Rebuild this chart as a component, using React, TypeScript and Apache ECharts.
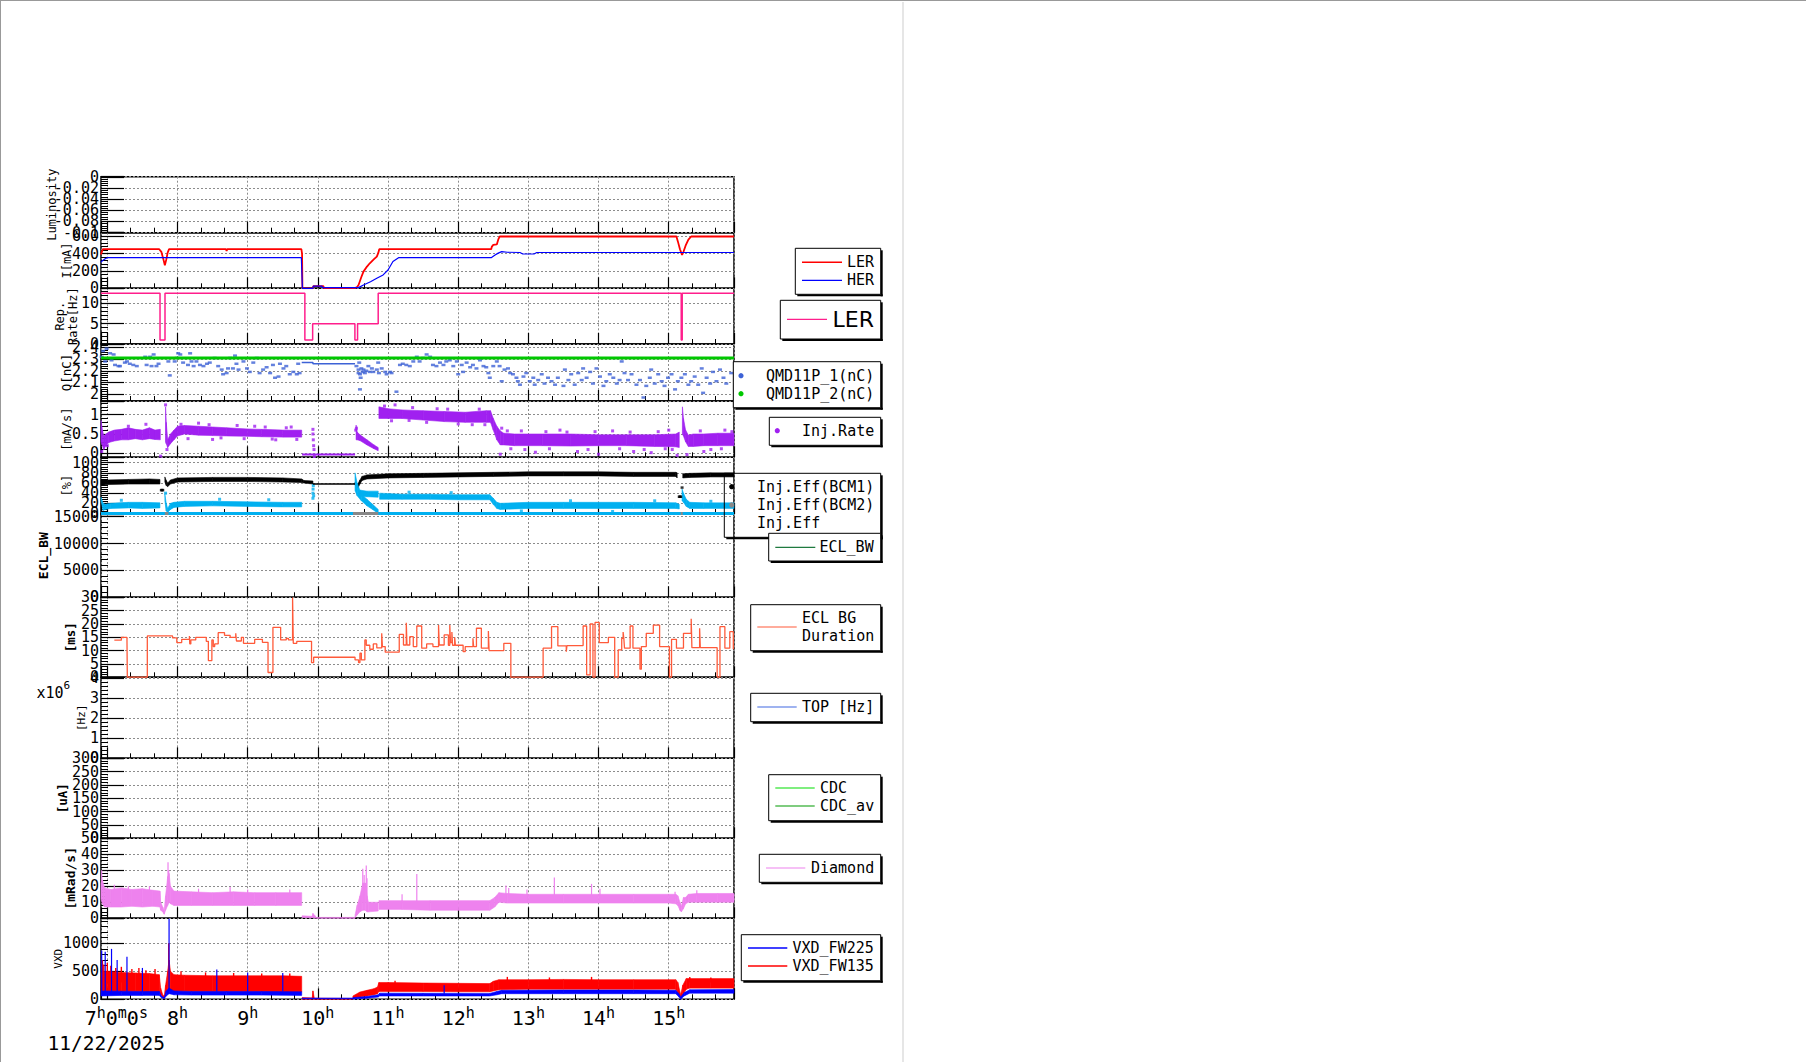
import React, { useEffect, useRef } from 'react';
import * as echarts from 'echarts';

const MONO = '"DejaVu Sans Mono", monospace';
const SANS = '"DejaVu Sans", sans-serif';

// ---------------- data (time in hours of day) ----------------
const TIME_MIN = 6.91;
const TIME_MAX = 15.93;

const lerCurrent = [[6.91,390],[6.935,450],[7.74,450],[7.77,420],[7.80,330],[7.82,265],[7.84,330],[7.86,410],[7.88,450],[8.69,450],[8.70,432],[8.71,450],[9.765,450],[9.775,400],[9.78,0],[9.93,0],[9.935,25],[10.08,25],[10.085,2],[10.53,2],[10.56,15],[10.58,38],[10.62,130],[10.65,192],[10.70,250],[10.74,288],[10.80,335],[10.84,365],[10.86,404],[10.875,450],[12.47,450],[12.48,480],[12.50,500],[12.55,505],[12.57,560],[12.59,596],[15.11,596],[15.13,540],[15.16,450],[15.19,385],[15.21,420],[15.24,490],[15.28,560],[15.32,596],[15.93,596]];
const herCurrent = [[6.91,300],[6.93,318],[6.97,340],[7.0,352],[9.765,352],[9.78,0],[9.93,0],[9.935,25],[10.06,25],[10.065,8],[10.58,8],[10.65,38],[10.75,75],[10.84,115],[10.93,154],[11.0,211],[11.07,308],[11.15,352],[12.47,352],[12.52,380],[12.57,405],[12.62,422],[12.70,415],[12.88,412],[12.92,395],[13.08,395],[13.12,412],[15.93,412]];

const lerRepRate = [[6.91,12.5],[7.751,12.5],[7.751,1],[7.822,1],[7.822,12.5],[9.815,12.5],[9.815,1],[9.926,1],[9.926,5],[10.528,5],[10.528,1],[10.566,1],[10.566,5],[10.86,5],[10.86,12.5],[15.178,12.5],[15.178,1],[15.192,1],[15.192,12.5],[15.93,12.5]];

const qmd1Points = [
[6.92,2.32],[6.94,2.37],[6.97,2.28],[6.99,2.39],[7.04,2.35],[7.06,2.29],[7.09,2.34],[7.11,2.25],[7.16,2.24],[7.18,2.24],[7.25,2.27],[7.28,2.28],[7.32,2.26],[7.37,2.25],[7.42,2.24],[7.54,2.32],[7.56,2.25],[7.61,2.32],[7.63,2.24],[7.66,2.34],[7.70,2.24],[7.73,2.26],[7.87,2.28],[7.89,2.16],
[7.96,2.28],[7.99,2.31],[8.01,2.35],[8.04,2.34],[8.08,2.27],[8.15,2.25],[8.18,2.35],[8.20,2.28],[8.23,2.24],[8.27,2.28],[8.32,2.25],[8.37,2.24],[8.42,2.26],[8.46,2.27],[8.53,2.31],[8.58,2.24],[8.63,2.21],[8.65,2.17],[8.70,2.18],[8.72,2.22],[8.75,2.31],[8.79,2.22],[8.82,2.33],[8.84,2.26],[8.87,2.21],[8.94,2.28],[8.99,2.22],[9.03,2.19],[9.08,2.27],[9.13,2.31],[9.17,2.18],[9.22,2.21],[9.27,2.23],[9.32,2.18],[9.36,2.25],[9.39,2.14],[9.44,2.15],[9.46,2.26],[9.51,2.22],[9.55,2.24],[9.60,2.17],[9.65,2.19],[9.70,2.17],[9.72,2.26],[9.74,2.18],
[10.55,2.24],[10.58,2.21],[10.58,2.18],[10.59,2.27],[10.60,2.17],[10.61,2.14],[10.62,2.22],[10.64,2.19],[10.65,2.21],[10.60,2.04],[10.67,2.18],[10.69,2.20],[10.72,2.24],[10.74,2.19],[10.77,2.22],[10.79,2.19],[10.84,2.21],[10.86,2.27],[10.87,2.18],[10.91,2.22],[10.96,2.19],[10.98,2.17],[11.03,2.19],[11.05,2.18],[11.12,2.02],[11.17,2.25],[11.21,2.26],[11.26,2.25],[11.31,2.24],[11.36,2.28],[11.41,2.32],[11.45,2.28],[11.50,2.31],[11.55,2.34],[11.60,2.32],[11.64,2.25],[11.69,2.24],[11.74,2.27],[11.79,2.25],[11.83,2.28],
[11.88,2.29],[11.93,2.24],[11.98,2.28],[12.0,2.17],[12.05,2.25],[12.07,2.19],[12.12,2.27],[12.17,2.23],[12.21,2.25],[12.26,2.22],[12.31,2.29],[12.36,2.24],[12.40,2.23],[12.43,2.18],[12.45,2.14],[12.50,2.24],[12.55,2.28],[12.59,2.24],[12.62,2.11],[12.66,2.21],[12.71,2.22],[12.74,2.18],[12.78,2.17],[12.83,2.14],[12.85,2.11],[12.88,2.08],[12.93,2.15],[12.97,2.18],[13.02,2.11],[13.07,2.14],[13.09,2.08],[13.14,2.12],[13.19,2.17],[13.23,2.09],[13.28,2.14],[13.33,2.11],[13.38,2.08],[13.42,2.14],[13.50,2.07],[13.52,2.21],[13.57,2.12],[13.61,2.17],[13.66,2.08],[13.71,2.18],[13.76,2.12],[13.78,2.22],[13.83,2.14],[13.88,2.19],[13.92,2.09],[13.97,2.22],[14.02,2.15],[14.07,2.07],[14.11,2.11],[14.16,2.17],[14.21,2.14],[14.26,2.09],[14.30,2.12],[14.33,2.28],[14.37,2.18],[14.42,2.12],[14.47,2.17],[14.54,2.08],[14.59,2.12],[14.64,1.97],[14.68,2.07],[14.73,2.14],[14.75,2.21],[14.80,2.09],[14.85,2.17],[14.90,2.11],[14.94,2.07],[14.99,2.14],[15.04,2.17],[15.09,2.04],[15.13,2.11],[15.18,2.14],[15.23,2.17],[15.28,2.08],[15.32,2.11],[15.37,2.15],[15.42,2.08],[15.47,2.22],[15.49,2.01],[15.54,2.14],[15.59,2.09],[15.63,2.19],[15.68,2.11],[15.73,2.21],[15.78,2.14],[15.82,2.09],[15.89,2.18]
];
const qmd1Flat = [[9.77,2.27],[9.93,2.27],[9.93,2.26],[10.53,2.26]];
const qmd2Line = [[6.91,2.31],[15.93,2.31]];

// bands: [time, low, high]
const injRateBand = [
  [[6.91,0.3,0.85],[6.93,0.2,0.6],[6.95,0.1,0.45],[6.98,0.2,0.5],[7.02,0.28,0.55],[7.1,0.32,0.6],[7.2,0.35,0.62],[7.3,0.35,0.66],[7.4,0.38,0.62],[7.5,0.35,0.6],[7.6,0.38,0.66],[7.68,0.36,0.6],[7.755,0.35,0.62]],
  [[7.83,0.3,1.2],[7.84,0.25,0.8],[7.86,0.15,0.35],[7.9,0.25,0.5],[7.95,0.35,0.6],[8.0,0.45,0.7],[8.1,0.5,0.72],[8.3,0.47,0.7],[8.5,0.46,0.68],[8.7,0.45,0.66],[9.0,0.44,0.63],[9.2,0.43,0.62],[9.5,0.42,0.6],[9.77,0.42,0.6]],
  [[10.545,0.35,0.73],[10.56,0.35,0.55],[10.6,0.33,0.48],[10.7,0.22,0.35],[10.8,0.12,0.22],[10.86,0.07,0.15]],
  [[10.87,0.9,1.2],[11.0,0.9,1.15],[11.2,0.9,1.12],[11.5,0.86,1.1],[11.8,0.82,1.08],[12.1,0.8,1.06],[12.4,0.8,1.1],[12.46,0.8,1.1],[12.5,0.6,0.9],[12.55,0.35,0.7],[12.6,0.22,0.58],[12.65,0.22,0.52],[12.8,0.2,0.5],[13.2,0.2,0.5],[13.6,0.19,0.5],[14.0,0.2,0.48],[14.4,0.2,0.48],[14.8,0.18,0.48],[15.1,0.17,0.5],[15.15,0.15,0.55]],
  [[15.195,0.5,1.2],[15.21,0.45,0.9],[15.24,0.3,0.6],[15.28,0.18,0.47],[15.35,0.18,0.5],[15.5,0.2,0.5],[15.7,0.2,0.52],[15.93,0.2,0.52]],
];
const injRateOutliers = [[6.92,0.05],[7.0,0.2],[7.3,0.7],[7.55,0.75],[7.76,-0.07],[7.83,1.25],[7.85,0.1],[8.05,0.75],[8.15,0.38],[8.3,0.78],[8.45,0.74],[8.5,0.36],[8.62,0.4],[8.85,0.72],[8.95,0.38],[9.1,0.7],[9.25,0.68],[9.35,0.37],[9.4,0.35],[9.55,0.66],[9.62,0.68],[9.7,0.36],[9.93,0.62],[9.93,0.5],[9.935,0.35],[9.94,0.2],[9.945,0.1],[9.95,-0.08],[10.54,0.6],[10.55,0.65],[10.95,1.22],[11.05,0.84],[11.1,1.25],[11.3,0.85],[11.35,1.18],[11.55,0.8],[11.7,1.15],[11.85,1.14],[12.0,0.76],[12.2,0.74],[12.3,1.14],[12.38,0.74],[12.6,-0.02],[12.62,0.65],[12.7,0.58],[12.75,0.12],[12.9,0.58],[12.95,0.1],[13.1,0.03],[13.25,0.56],[13.3,0.12],[13.45,0.6],[13.55,0.55],[13.7,0.05],[13.85,0.1],[13.95,0.56],[14.0,-0.02],[14.2,0.58],[14.3,0.12],[14.45,0.55],[14.5,0.05],[14.65,0.1],[14.75,0.02],[14.85,0.56],[14.95,0.12],[15.0,0.6],[15.05,0.1],[15.12,-0.05],[15.26,-0.03],[15.45,0.58],[15.5,0.05],[15.6,0.1],[15.75,0.12],[15.8,0.6],[15.9,0.56]];
const injRateFlat = [[9.775,-0.03],[10.53,-0.03]];

const effBcm1Band = [
  [[6.91,55,66],[7.0,57,66],[7.3,58,67],[7.6,58,68],[7.75,58,67]],
  [[7.82,62,72],[7.84,55,65],[7.86,53,60],[7.9,58,66],[8.0,62,70],[8.5,63,71],[9.0,63,71],[9.5,62,70],[9.77,61,68],[9.8,60,65],[9.93,58,64]],
  [[10.53,56,62],[10.57,50,58],[10.6,58,66],[10.63,65,73],[10.7,68,76],[11.0,70,78],[11.5,71,79],[12.0,72,80],[12.5,73,81],[13.0,74,82],[13.5,74,82],[14.0,74,82],[14.5,73,81],[15.1,73,81],[15.12,70,80]],
  [[15.2,70,78],[15.3,71,79],[15.6,72,80],[15.93,72,80]],
];
const effBcm1Flat = [[9.93,58],[10.53,58]];
const effBcm1Points = [[7.77,46],[7.78,46],[7.79,46],[15.15,33],[15.16,33],[15.17,33],[15.19,51]];
const effBcm2Segments = [[[7.82,0],[7.87,0]],[[10.5,0],[10.86,0]],[[15.17,0],[15.2,0]]];
const injEffBand = [
  [[6.91,25,32],[6.94,6,20],[6.97,8,18],[7.05,10,20],[7.3,11,22],[7.5,10,22],[7.75,11,21]],
  [[7.82,25,38],[7.84,5,20],[7.86,2,10],[7.9,8,20],[7.95,12,22],[8.1,14,24],[8.5,15,24],[9.0,14,23],[9.5,13,22],[9.77,13,22]],
  [[10.53,45,80],[10.56,35,60],[10.62,25,38],[10.7,15,28],[10.78,8,18],[10.86,0,8]],
  [[10.6,34,46],[10.7,33,44],[10.86,32,44]],
  [[10.88,28,40],[11.2,28,38],[11.6,28,38],[12.0,27,37],[12.45,27,37],[12.5,18,30],[12.55,10,22],[12.6,8,20],[13.0,10,22],[13.5,10,22],[14.0,10,22],[14.5,10,22],[15.1,10,21],[15.15,9,18]],
  [[15.19,25,48],[15.21,22,40],[15.25,14,28],[15.3,10,22],[15.5,10,21],[15.93,10,21]],
];
const injEffPoints = [[9.93,30],[9.93,40],[9.932,48],[9.935,55],[9.94,35],[7.83,40],[7.2,26],[8.6,28],[9.3,27],[11.3,42],[11.9,41],[12.9,5],[13.6,25],[14.2,4],[14.8,25],[15.6,24]];
const injEffZero = [[6.91,0],[15.93,0]];

const eclBgDuration = [[7.10,13.9],[7.20,15],[7.28,14.5],[7.285,0],[7.57,15.5],[7.93,14.75],[7.99,13],[8.06,14.25],[8.17,15.5],[8.175,12.5],[8.19,14],[8.26,15],[8.41,13.5],[8.44,6.25],[8.49,14],[8.51,11.5],[8.53,12.5],[8.58,16.75],[8.67,15.75],[8.75,15],[8.83,16.5],[8.84,13.6],[8.91,15],[8.94,12.75],[9.10,14.25],[9.21,13.1],[9.29,1.75],[9.36,18.75],[9.47,14],[9.55,14.6],[9.58,14],[9.64,30],[9.65,12.75],[9.70,13.5],[9.91,5.5],[9.94,7.5],[10.53,6.5],[10.58,5.5],[10.60,9],[10.62,6.5],[10.67,14],[10.69,12],[10.74,10.5],[10.79,12.5],[10.84,11],[10.91,16.5],[10.92,11.5],[10.96,9.4],[11.16,16.1],[11.22,12.1],[11.26,20.5],[11.27,12.1],[11.31,15.25],[11.36,11.5],[11.41,19.25],[11.48,10.9],[11.55,12.5],[11.64,11.5],[11.72,19.6],[11.73,12.1],[11.80,15.9],[11.86,12],[11.88,19.6],[11.89,13],[11.91,17],[11.92,12],[11.95,15],[11.96,12],[12.07,9.6],[12.10,11.5],[12.21,14.6],[12.22,11.5],[12.26,18.4],[12.33,10.9],[12.43,17.4],[12.44,10],[12.65,12.75],[12.75,0],[13.21,10.9],[13.33,19],[13.42,11.75],[13.54,9.6],[13.55,11.9],[13.78,19.25],[13.83,0.9],[13.88,20],[13.92,0],[13.95,20.6],[14.01,13],[14.14,15],[14.23,0],[14.28,10.25],[14.33,14.6],[14.35,17],[14.36,14.6],[14.37,10.9],[14.45,19.25],[14.49,10.9],[14.59,3],[14.61,11.5],[14.68,16.5],[14.78,19.6],[14.87,11.5],[15.01,0],[15.04,14.25],[15.11,10.9],[15.21,16.5],[15.32,22],[15.33,11.1],[15.44,18.4],[15.45,11.1],[15.69,0],[15.73,19],[15.80,10.9],[15.87,17.1],[15.92,10.5],[15.93,10.5]];

const diamondBand = [
  [[6.91,12,22],[6.93,9,24],[6.96,7,19],[7.05,7,18],[7.2,7,19],[7.35,7.5,18],[7.5,7,18.5],[7.65,7.5,17.5],[7.75,7,17],[7.76,5,10],[7.79,4,7],[7.81,2.5,4.5],[7.83,5,14],[7.86,8,26],[7.88,10,28],[7.9,9,20],[7.95,8,17],[8.2,8,16.5],[8.5,8,16],[8.8,8,16.5],[9.1,8,16],[9.4,8,16],[9.77,8,16]],
  [[9.775,0.5,1.5],[9.92,0.3,1.2],[9.93,0.5,3],[9.96,0.3,1.5],[9.97,0,0.5],[10.53,0,0.5]],
  [[10.53,0.5,2],[10.56,2,8],[10.6,4,14],[10.64,5,22],[10.68,5,22],[10.7,4,14],[10.72,4,10],[10.86,4.5,10]],
  [[10.87,5.5,11],[11.2,5.5,11],[11.6,5,11],[12.0,5,11],[12.45,5,11],[12.52,7,13],[12.58,10,16],[12.7,9.5,15.5],[13.0,9.5,15],[13.5,9.5,15],[14.0,9.5,15],[14.5,9.5,15],[15.0,9.5,15],[15.1,9,15],[15.13,8,14],[15.16,5,10],[15.18,4,7.5],[15.21,6,13],[15.24,9,13],[15.28,10,15],[15.4,10,15.5],[15.7,10,15.5],[15.93,10,15.5]],
];
const diamondSpikes = [[6.92,15,30],[7.1,10,21],[7.3,10,20],[7.6,10,20],[7.865,15,35],[7.875,15,30],[8.3,12,18.5],[8.75,12,19.5],[9.0,12,18],[9.6,12,18],[10.64,10,31],[10.66,10,27],[10.69,10,33],[10.7,8,25],[11.2,9,15],[11.41,9,27.7],[12.68,14,20.5],[12.72,14,19],[12.98,14,18],[13.37,14,25.5],[13.9,14,21.5],[14.02,14,18.5],[15.09,12,16.5],[15.4,14,17.5]];

const vxdFw135Band = [
  [[6.91,120,480],[7.0,130,500],[7.2,135,480],[7.4,135,470],[7.6,130,460],[7.74,130,440],[7.76,80,200],[7.79,40,80],[7.81,20,50],[7.83,100,250],[7.86,180,500],[7.88,180,700],[7.9,150,500],[7.95,140,440],[8.1,140,430],[8.5,135,420],[9.0,135,420],[9.5,130,420],[9.77,130,410]],
  [[9.775,0,30],[9.92,0,25],[9.93,10,150],[9.95,0,20],[10.5,0,15]],
  [[10.5,20,60],[10.6,40,130],[10.7,60,160],[10.8,80,190],[10.85,100,220],[10.87,140,300],[11.0,140,300],[11.5,140,290],[12.0,135,285],[12.45,135,280],[12.5,150,320],[12.58,170,350],[13.0,180,350],[13.5,180,355],[14.0,180,350],[14.5,180,350],[15.1,180,350],[15.13,100,300],[15.17,20,80],[15.2,80,250],[15.25,180,370],[15.3,200,370],[15.6,200,370],[15.93,200,370]],
];
const vxdFw135Spikes = [[6.93,300,700],[6.95,300,620],[7.0,300,650],[7.05,300,600],[7.12,300,560],[7.2,300,580],[7.35,300,540],[7.45,300,560],[7.55,300,520],[7.68,300,540],[7.875,400,1000],[8.05,300,500],[8.4,300,480],[8.8,300,470],[9.2,300,460],[9.6,300,460],[11.1,250,330],[12.7,300,400],[13.3,300,390],[13.9,300,400],[15.3,300,400],[15.6,300,390]];
const vxdFw225Band = [
  [[6.91,60,150],[7.2,70,145],[7.5,70,140],[7.74,70,140],[7.77,30,60],[7.81,10,30],[7.84,60,150],[7.88,100,200],[7.95,80,150],[8.2,75,140],[8.7,75,140],[9.2,75,140],[9.77,70,135]],
  [[9.775,8,22],[10.5,8,22]],
  [[10.5,5,30],[10.7,20,50],[10.86,40,80],[10.88,60,110],[11.5,60,108],[12.45,60,105],[12.55,80,140],[12.62,100,160],[13.5,100,165],[14.5,100,165],[15.1,100,160],[15.14,50,110],[15.17,0,40],[15.22,60,120],[15.3,110,170],[15.93,110,175]],
];
const vxdFw225Spikes = [[6.92,140,870],[6.97,140,850],[7.06,140,900],[7.14,140,700],[7.28,140,760],[7.5,140,560],[7.88,150,1440],[8.56,140,530],[9.0,140,480],[9.5,140,470],[11.8,100,250]];

const hourLabels = [7, 8, 9, 10, 11, 12, 13, 14, 15];
const dateLabel = '11/22/2025';

// ---------------- layout / style ----------------
const PANEL_EDGES = [176.7, 232.7, 288.3, 344, 401, 457.3, 514, 597.3, 677.3, 758.3, 838.3, 918.3, 999.3];
const PLOT_LEFT = 101;
const PLOT_WIDTH = 633;

const C = {
  ler: '#ff0000', her: '#0000ff', pink: '#ff1e8c', qblue: '#3d62d6', qgreen: '#00c800',
  purple: '#a020f0', cyan: '#00b0f0', tomato: '#ff5a3a', violet: '#ee82ee', grid: '#8c8c8c',
};

// axis extents are padded a hair beyond the end ticks so that end labels are kept
const yPanels: any[] = [
  { title: 'Luminosity', min: -0.1002, max: 0.0002, split: 5, step: 0.02, gap: 43.3, font: 12 },
  { title: 'I[mA]', min: 0, max: 640, interval: 200, step: 200, gap: 28.3, font: 12 },
  { title: 'Rep.\nRate[Hz]', min: 0, max: 13.7, interval: 5, step: 5, gap: 21, font: 12, lh: 13.3 },
  { title: 'Q[nC]', min: 1.94, max: 2.43, split: 5, step: 0.1, gap: 28, font: 12.5 },
  { title: '[mA/s]', min: -0.1, max: 1.35, split: 3, step: 0.5, gap: 28.3, font: 12 },
  { title: '[%]', min: -1, max: 110.6, split: 6, step: 20, gap: 28.3, font: 12 },
  { title: 'ECL_BW', min: 0, max: 15500, interval: 5000, step: 5000, gap: 51.2, font: 13, bold: true },
  { title: '[ms]', min: -0.05, max: 30.05, split: 6, step: 5, gap: 24, font: 12.5, bold: true },
  { title: '[Hz]', min: 0, max: 4.05e6, interval: 1e6, step: 1e6, scale: 1e6, gap: 13.8, font: 11 },
  { title: '[uA]', min: -0.5, max: 300.5, split: 6, step: 50, gap: 32.5, font: 12.5, bold: true },
  { title: '[mRad/s]', min: -0.05, max: 50.05, split: 5, step: 10, gap: 23.8, font: 13, bold: true },
  { title: 'VXD', min: 0, max: 1446, interval: 500, step: 500, gap: 37.2, font: 11 },
];

const tickFmt = (step: number, scale = 1) => (v: number) => {
  const k = v / step;
  if (Math.abs(k - Math.round(k)) > 1e-6) return '';
  const val = (Math.round(k) * step) / scale;
  return String(parseFloat(val.toFixed(6)));
};

function toQuads(segs: number[][][]) {
  const out: number[][] = [];
  for (const seg of segs) {
    for (let i = 0; i < seg.length - 1; i++) {
      const a = seg[i], b = seg[i + 1];
      out.push([a[0], a[1], a[2], b[0], b[1], b[2]]);
    }
  }
  return out;
}

const lineS = (i: number, data: any[], color: string, width: number, extra: any = {}) => ({
  type: 'line', xAxisIndex: i, yAxisIndex: i, data, symbol: 'none', showSymbol: false,
  lineStyle: { color, width }, itemStyle: { color }, silent: true, ...extra,
});
const scatterS = (i: number, data: any[], color: string, size: any, symbol = 'rect') => ({
  type: 'scatter', xAxisIndex: i, yAxisIndex: i, data, symbol, symbolSize: size, itemStyle: { color }, silent: true,
});
const bandS = (i: number, segs: number[][][], color: string) => ({
  type: 'custom', xAxisIndex: i, yAxisIndex: i, data: toQuads(segs), silent: true,
  encode: { x: [0, 3], y: [1, 2, 4, 5] },
  renderItem: (params: any, api: any) => {
    const pts = [
      api.coord([api.value(0), api.value(1)]),
      api.coord([api.value(0), api.value(2)]),
      api.coord([api.value(3), api.value(5)]),
      api.coord([api.value(3), api.value(4)]),
    ];
    return { type: 'polygon', shape: { points: pts }, style: { fill: color, stroke: color, lineWidth: 0.6 } };
  },
});
const vlineS = (i: number, data: number[][], color: string, width = 1.2) => ({
  type: 'custom', xAxisIndex: i, yAxisIndex: i, data, silent: true,
  encode: { x: 0, y: [1, 2] },
  renderItem: (params: any, api: any) => {
    const a = api.coord([api.value(0), api.value(1)]);
    const b = api.coord([api.value(0), api.value(2)]);
    return { type: 'line', shape: { x1: a[0], y1: a[1], x2: b[0], y2: b[1] }, style: { stroke: color, lineWidth: width } };
  },
});

// legend graphics helpers
const frame = (x: number, y: number, w: number, h: number, fill = true) => [
  { type: 'rect', z: 100, shape: { x: x + w, y: y + 2, width: 2, height: h }, style: { fill: '#000' } },
  { type: 'rect', z: 100, shape: { x: x + 2, y: y + h, width: w, height: 2 }, style: { fill: '#000' } },
  { type: 'rect', z: 100, shape: { x, y, width: w, height: h }, style: { fill: fill ? '#fff' : 'rgba(0,0,0,0)', stroke: '#000', lineWidth: 1 } },
];
const seg = (x1: number, x2: number, y: number, color: string, w = 1.2) => ({
  type: 'line', z: 101, shape: { x1, y1: y, x2, y2: y }, style: { stroke: color, lineWidth: w },
});
const dot = (cx: number, cy: number, color: string) => ({
  type: 'circle', z: 101, shape: { cx, cy, r: 2.6 }, style: { fill: color },
});
const txt = (x: number, y: number, text: string, font = `15px ${MONO}`) => ({
  type: 'text', z: 101, x, y,
  style: { text, font, fill: '#000', align: 'left', verticalAlign: 'middle', textAlign: 'left', textVerticalAlign: 'middle' },
});

function buildOption() {
  const n = PANEL_EDGES.length - 1;
  const grids = [], xAxes = [], yAxes = [];
  for (let i = 0; i < n; i++) {
    grids.push({
      left: PLOT_LEFT, width: PLOT_WIDTH, top: PANEL_EDGES[i], height: PANEL_EDGES[i + 1] - PANEL_EDGES[i],
      show: true, borderColor: '#000', borderWidth: 1.5, backgroundColor: 'transparent',
      containLabel: false, outerBoundsMode: 'none',
    });
    const last = i === n - 1;
    xAxes.push({
      type: 'value', gridIndex: i, min: TIME_MIN, max: TIME_MAX, splitNumber: 9,
      axisLine: { show: false, onZero: false },
      axisTick: { show: true, inside: true, length: 11, lineStyle: { color: '#000', width: 1.2 } },
      minorTick: { show: true, splitNumber: 3, length: 5, lineStyle: { color: '#000', width: 1 } },
      splitLine: { show: true, lineStyle: { color: C.grid, width: 1, type: [2, 2] } },
      axisLabel: last ? {
        show: true, margin: 6, color: '#000', fontFamily: MONO,
        formatter: (v: number) => {
          const h = Math.round(v);
          if (Math.abs(v - h) > 1e-6 || hourLabels.indexOf(h) < 0) return '';
          if (h === hourLabels[0]) return `{f|${h}}{s|h}{d|0}{s|m}{d|0}{s|s}`;
          return `{d|${h}}{s|h}`;
        },
        rich: {
          f: { fontSize: 20, fontFamily: MONO, color: '#000', lineHeight: 26, padding: [0, 0, 0, 18] },
          d: { fontSize: 20, fontFamily: MONO, color: '#000', lineHeight: 26 },
          s: { fontSize: 15, fontFamily: MONO, color: '#000', lineHeight: 10, verticalAlign: 'top' },
        },
      } : { show: false },
    });
    const p = yPanels[i];
    yAxes.push({
      type: 'value', gridIndex: i, min: p.min, max: p.max,
      ...(p.interval ? { interval: p.interval } : { splitNumber: p.split }),
      axisLine: { show: false },
      axisTick: { show: true, inside: true, length: 23, lineStyle: { color: '#000', width: 1.2 } },
      minorTick: { show: true, splitNumber: 5, length: 7, lineStyle: { color: '#000', width: 1 } },
      splitLine: { show: true, lineStyle: { color: C.grid, width: 1, type: [2, 2] } },
      axisLabel: {
        show: true, margin: 2, color: '#000', fontFamily: MONO, fontSize: 15, hideOverlap: false,
        formatter: tickFmt(p.step, p.scale || 1),
      },
      name: p.title, nameLocation: 'middle', nameRotate: 90, nameGap: p.gap, nameMoveOverlap: false,
      nameTextStyle: { fontFamily: MONO, fontSize: p.font, fontWeight: p.bold ? 'bold' : 'normal', color: '#000', lineHeight: p.lh || p.font },
    });
  }

  const series: any[] = [
    lineS(1, lerCurrent, C.ler, 1.8),
    lineS(1, herCurrent, C.her, 1.2),
    lineS(2, lerRepRate, C.pink, 1.5),
    lineS(3, qmd2Line, C.qgreen, 3),
    scatterS(3, qmd1Points, C.qblue, [4, 2.5]),
    lineS(3, qmd1Flat, C.qblue, 1.5),
    bandS(4, injRateBand, C.purple),
    scatterS(4, injRateOutliers, C.purple, [3, 3]),
    lineS(4, injRateFlat, C.purple, 2),
    bandS(5, effBcm1Band, '#000'),
    lineS(5, effBcm1Flat, '#000', 1.5),
    scatterS(5, effBcm1Points, '#000', [3, 2.5]),
    bandS(5, injEffBand, C.cyan),
    scatterS(5, injEffPoints, C.cyan, [3, 3]),
    lineS(5, injEffZero, C.cyan, 3),
    ...effBcm2Segments.map((s) => lineS(5, s, '#888', 3)),
    lineS(7, eclBgDuration, C.tomato, 1.3, { step: 'end' }),
    bandS(10, diamondBand, C.violet),
    vlineS(10, diamondSpikes, C.violet, 1.2),
    bandS(11, vxdFw135Band, C.ler),
    vlineS(11, vxdFw135Spikes, C.ler, 1.4),
    bandS(11, vxdFw225Band, C.her),
    vlineS(11, vxdFw225Spikes, C.her, 1.2),
  ];

  const graphic: any[] = [
    { type: 'line', z: 0, shape: { x1: 0, y1: 0.5, x2: 1806, y2: 0.5 }, style: { stroke: '#999', lineWidth: 1 } },
    { type: 'line', z: 0, shape: { x1: 0.5, y1: 0, x2: 0.5, y2: 1062 }, style: { stroke: '#999', lineWidth: 1 } },
    { type: 'rect', z: 0, shape: { x: 902, y: 2, width: 2, height: 1060 }, style: { fill: '#e6e6e6' } },
    { type: 'text', z: 101, x: 47.5, y: 1043.3, style: { text: dateLabel, font: `19.5px ${MONO}`, fill: '#000', align: 'left', verticalAlign: 'middle', textAlign: 'left', textVerticalAlign: 'middle' } },
    { type: 'text', z: 101, x: 36.5, y: 692.5, style: { text: 'x10', font: `15px ${MONO}`, fill: '#000', align: 'left', verticalAlign: 'middle', textAlign: 'left', textVerticalAlign: 'middle' } },
    { type: 'text', z: 101, x: 63.5, y: 685, style: { text: '6', font: `11px ${MONO}`, fill: '#000', align: 'left', verticalAlign: 'middle', textAlign: 'left', textVerticalAlign: 'middle' } },

    ...frame(795.3, 248.3, 85.4, 46),
    seg(802, 842, 262.3, C.ler, 1.6), txt(847, 262.3, 'LER'),
    seg(802, 842, 280.3, C.her, 1.2), txt(847, 280.3, 'HER'),
    ...frame(780.3, 300.3, 100.4, 38.7),
    seg(787, 827, 319.3, C.pink, 1.2), txt(832.5, 319.3, 'LER', `22px ${SANS}`),
    ...frame(733.3, 361.7, 147.4, 46),
    dot(741, 375.7, C.qblue), txt(766, 375.7, 'QMD11P_1(nC)'),
    dot(741, 393.7, C.qgreen), txt(766, 393.7, 'QMD11P_2(nC)'),
    ...frame(769.3, 417.3, 111.4, 28),
    dot(777.3, 430.7, C.purple), txt(802, 430.7, 'Inj.Rate'),
    ...frame(724.3, 473.3, 156.4, 64, false),
    dot(731.7, 486.7, '#000'), txt(757, 486.7, 'Inj.Eff(BCM1)'),
    dot(731.7, 505, '#888'), txt(757, 505, 'Inj.Eff(BCM2)'),
    txt(757, 522.7, 'Inj.Eff'),
    ...frame(768.7, 533.3, 112, 27.7),
    seg(775.3, 815.3, 547.3, '#1f7a3f'), txt(819.5, 547.3, 'ECL_BW'),
    ...frame(750.7, 604.7, 130, 46),
    seg(757.3, 796.7, 627, C.tomato), txt(802, 618.3, 'ECL BG'), txt(802, 636, 'Duration'),
    ...frame(750.7, 693.3, 130, 28.4),
    seg(757.3, 796.7, 707, '#4169e1'), txt(802, 707, 'TOP [Hz]'),
    ...frame(768.7, 774.7, 112, 46),
    seg(775.3, 814.7, 788, '#00dd00'), txt(820, 788, 'CDC'),
    seg(775.3, 814.7, 806, '#009900'), txt(820, 806, 'CDC_av'),
    ...frame(759.3, 854.3, 121.4, 28),
    seg(766, 805.3, 868, C.violet), txt(811, 868, 'Diamond'),
    ...frame(741.3, 934.7, 139.4, 46),
    seg(748, 787.3, 948, C.her, 1.5), txt(792.5, 948, 'VXD_FW225'),
    seg(748, 787.3, 966, C.ler, 1.5), txt(792.5, 966, 'VXD_FW135'),
  ];

  return {
    animation: false,
    backgroundColor: '#fff',
    textStyle: { fontFamily: MONO },
    grid: grids,
    xAxis: xAxes,
    yAxis: yAxes,
    series,
    graphic: { elements: graphic },
  };
}

export default function App() {
  const ref = useRef<HTMLDivElement>(null);
  useEffect(() => {
    if (!ref.current) return;
    const chart = echarts.init(ref.current, null, { renderer: 'svg' });
    chart.setOption(buildOption() as any);
    return () => chart.dispose();
  }, []);
  return (
    <div
      ref={ref}
      style={{ position: 'fixed', left: 0, top: 0, width: 1806, height: 1062, background: '#fff' }}
    />
  );
}
